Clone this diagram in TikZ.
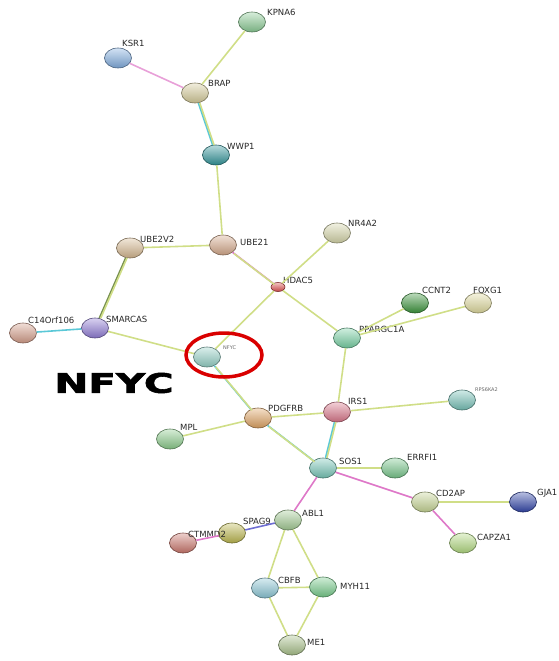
\documentclass[tikz,border=0pt]{standalone}
\usepackage{fontspec}
\usepackage{graphicx}
\setmainfont{DejaVu Sans}
\newfontfamily\heavyfont[BoldFont={DejaVu Sans Bold},
  BoldFeatures={FakeBold=2}]{DejaVu Sans}
\usepackage{tikz}
\usetikzlibrary{shapes.geometric}

% node colours
\definecolor{ckpna}{RGB}{140,205,150}
\definecolor{cksr}{RGB}{130,175,225}
\definecolor{cbrap}{RGB}{215,205,155}
\definecolor{cwwp}{RGB}{50,150,155}
\definecolor{cubev}{RGB}{215,185,145}
\definecolor{cube}{RGB}{215,170,140}
\definecolor{cnr}{RGB}{215,215,170}
\definecolor{chdac}{RGB}{225,80,80}
\definecolor{csmarc}{RGB}{145,125,215}
\definecolor{ccorf}{RGB}{215,160,140}
\definecolor{cnfyc}{RGB}{150,210,200}
\definecolor{cccnt}{RGB}{60,150,60}
\definecolor{cfoxg}{RGB}{225,220,160}
\definecolor{cppar}{RGB}{120,210,165}
\definecolor{cirs}{RGB}{220,120,140}
\definecolor{crps}{RGB}{120,195,185}
\definecolor{cpdgf}{RGB}{225,165,100}
\definecolor{cmpl}{RGB}{140,205,140}
\definecolor{csos}{RGB}{120,200,185}
\definecolor{cerrf}{RGB}{120,200,140}
\definecolor{ccdap}{RGB}{200,215,150}
\definecolor{cgja}{RGB}{50,70,170}
\definecolor{ccapz}{RGB}{180,220,130}
\definecolor{cabl}{RGB}{165,205,150}
\definecolor{cspag}{RGB}{190,185,80}
\definecolor{cctmm}{RGB}{205,120,110}
\definecolor{ccbfb}{RGB}{140,200,215}
\definecolor{cmyh}{RGB}{120,205,140}
\definecolor{cme}{RGB}{170,195,140}
% edge colours
\definecolor{etxt}{RGB}{208,222,135}
\definecolor{ecyan}{RGB}{90,200,215}
\definecolor{epink}{RGB}{222,120,200}
\definecolor{eblue}{RGB}{110,110,210}
\definecolor{eolive}{RGB}{120,145,80}

\begin{document}
\begin{tikzpicture}[x=1pt, y=-1pt,
  gene/.style={ellipse, minimum width=27pt, minimum height=20pt,
    inner sep=0pt, draw=#1!55!black, line width=0.6pt,
    top color=#1!35!white, middle color=#1, bottom color=#1!85!black},
  small/.style={gene=#1, minimum width=14pt, minimum height=9pt},
  lbl/.style={font=\fontsize{8.5}{9}\selectfont, text=black!85,
    inner sep=0pt, anchor=west},
  tiny/.style={lbl, font=\fontsize{5}{5}\selectfont, text=black!60},
  link/.style={line width=1.6pt, etxt},
  linkc/.style={line width=1.6pt, ecyan},
  linkp/.style={line width=1.6pt, epink},
]
\useasboundingbox (0,0) rectangle (559,661);

% Proteins
\node[gene=ckpna] (kpna6) at (252,22) {};
\node[gene=cksr] (ksr1) at (118,58) {};
\node[gene=cbrap] (brap) at (195,93) {};
\node[gene=cwwp] (wwp1) at (216,155) {};
\node[gene=cubev] (ube2v2) at (130,248) {};
\node[gene=cube] (ube21) at (223,245) {};
\node[gene=cnr] (nr4a2) at (337,233) {};
\node[small=chdac] (hdac5) at (278,287) {};
\node[gene=csmarc] (smarcas) at (95,328) {};
\node[gene=ccorf] (corf) at (23,333) {};
\node[gene=cnfyc] (nfyc) at (207,357) {};
\node[gene=cccnt] (ccnt2) at (415,303) {};
\node[gene=cfoxg] (foxg1) at (478,303) {};
\node[gene=cppar] (ppargc) at (347,338) {};
\node[gene=cirs] (irs1) at (337,412) {};
\node[gene=crps] (rps6ka2) at (462,400) {};
\node[gene=cpdgf] (pdgfrb) at (258,418) {};
\node[gene=cmpl] (mpl) at (170,439) {};
\node[gene=csos] (sos1) at (323,468) {};
\node[gene=cerrf] (errfi1) at (395,468) {};
\node[gene=ccdap] (cd2ap) at (425,502) {};
\node[gene=cgja] (gja1) at (523,502) {};
\node[gene=ccapz] (capza1) at (463,543) {};
\node[gene=cabl] (abl1) at (288,520) {};
\node[gene=cspag] (spag9) at (232,533) {};
\node[gene=cctmm] (ctmmd2) at (183,543) {};
\node[gene=ccbfb] (cbfb) at (265,588) {};
\node[gene=cmyh] (myh11) at (323,587) {};
\node[gene=cme] (me1) at (292,645) {};

% Labels
\node[lbl] (kpna6-l) at (267,12) {KPNA6};
\node[lbl] (ksr1-l) at (122,43) {KSR1};
\node[lbl] (brap-l) at (208,83) {BRAP};
\node[lbl] (wwp1-l) at (227,146) {WWP1};
\node[lbl] (ube2v2-l) at (140,239) {UBE2V2};
\node[lbl] (ube21-l) at (240,242) {UBE21};
\node[lbl] (nr4a2-l) at (348,223) {NR4A2};
\node[lbl] (hdac5-l) at (283,280) {HDAC5};
\node[lbl] (smarcas-l) at (106,319) {SMARCAS};
\node[lbl] (corf-l) at (28,320) {C14Orf106};
\node[tiny] (nfyc-l) at (223,348) {NFYC};
\node[lbl] (ccnt2-l) at (422,290) {CCNT2};
\node[lbl] (foxg1-l) at (473,290) {FOXG1};
\node[lbl] (ppargc-l) at (359,329) {PPARGC1A};
\node[lbl] (irs1-l) at (348,401) {IRS1};
\node[tiny] (rps6ka2-l) at (475,390) {RPS6KA2};
\node[lbl] (pdgfrb-l) at (268,408) {PDGFRB};
\node[lbl] (mpl-l) at (180,427) {MPL};
\node[lbl] (sos1-l) at (339,461) {SOS1};
\node[lbl] (errfi1-l) at (407,457) {ERRFI1};
\node[lbl] (cd2ap-l) at (436,493) {CD2AP};
\node[lbl] (gja1-l) at (537,493) {GJA1};
\node[lbl] (capza1-l) at (477,537) {CAPZA1};
\node[lbl] (abl1-l) at (302,513) {ABL1};
\node[lbl] (spag9-l) at (243,521) {SPAG9};
\node[lbl] (ctmmd2-l) at (188,534) {CTMMD2};
\node[lbl] (cbfb-l) at (278,580) {CBFB};
\node[lbl] (myh11-l) at (340,586) {MYH11};
\node[lbl] (me1-l) at (307,642) {ME1};

% Interactions
\draw[link] (kpna6) -- (brap);
\draw[line width=1.6pt, epink!70] (ksr1) -- (brap);
\draw[linkc] (brap) -- (wwp1);
\draw[link, transform canvas={xshift=1.4pt}] (brap) -- (wwp1);
\draw[link] (wwp1) -- (ube21);
\draw[link] (ube2v2) -- (ube21);
\draw[line width=1.6pt, eolive] (ube2v2) -- (smarcas);
\draw[link, transform canvas={xshift=1.4pt}] (ube2v2) -- (smarcas);
\draw[linkp] (ube21) -- (hdac5);
\draw[link, transform canvas={xshift=1.2pt, yshift=-1.2pt}] (ube21) -- (hdac5);
\draw[link] (nr4a2) -- (hdac5);
\draw[link] (hdac5) -- (nfyc);
\draw[link] (hdac5) -- (ppargc);
\draw[linkc] (corf) -- (smarcas);
\draw[link] (smarcas) -- (nfyc);
\draw[linkc] (nfyc) -- (pdgfrb);
\draw[link, transform canvas={xshift=1.3pt, yshift=-1pt}] (nfyc) -- (pdgfrb);
\draw[link] (ppargc) -- (ccnt2);
\draw[link] (ppargc) -- (foxg1);
\draw[link] (ppargc) -- (irs1);
\draw[link] (irs1) -- (rps6ka2);
\draw[link] (pdgfrb) -- (irs1);
\draw[link] (pdgfrb) -- (mpl);
\draw[linkc] (pdgfrb) -- (sos1);
\draw[link, transform canvas={xshift=1.2pt, yshift=-1.2pt}] (pdgfrb) -- (sos1);
\draw[linkc] (irs1) -- (sos1);
\draw[link, transform canvas={xshift=1.4pt}] (irs1) -- (sos1);
\draw[link] (sos1) -- (errfi1);
\draw[linkp] (sos1) -- (cd2ap);
\draw[linkp] (sos1) -- (abl1);
\draw[link] (cd2ap) -- (gja1);
\draw[linkp] (cd2ap) -- (capza1);
\draw[line width=1.6pt, eblue] (abl1) -- (spag9);
\draw[linkp] (spag9) -- (ctmmd2);
\draw[link] (abl1) -- (cbfb);
\draw[link] (abl1) -- (myh11);
\draw[link] (cbfb) -- (myh11);
\draw[link] (cbfb) -- (me1);
\draw[link] (myh11) -- (me1);

% Highlight
\node[ellipse, draw=red!85!black, line width=3.5pt, minimum width=76pt,
  minimum height=44pt] (ring) at (224,355) {};
\node[font=\heavyfont\fontsize{27}{27}\bfseries\selectfont] (title)
  at (114,383) {\scalebox{1.5}[1]{NFYC}};

\end{tikzpicture}
\end{document}
